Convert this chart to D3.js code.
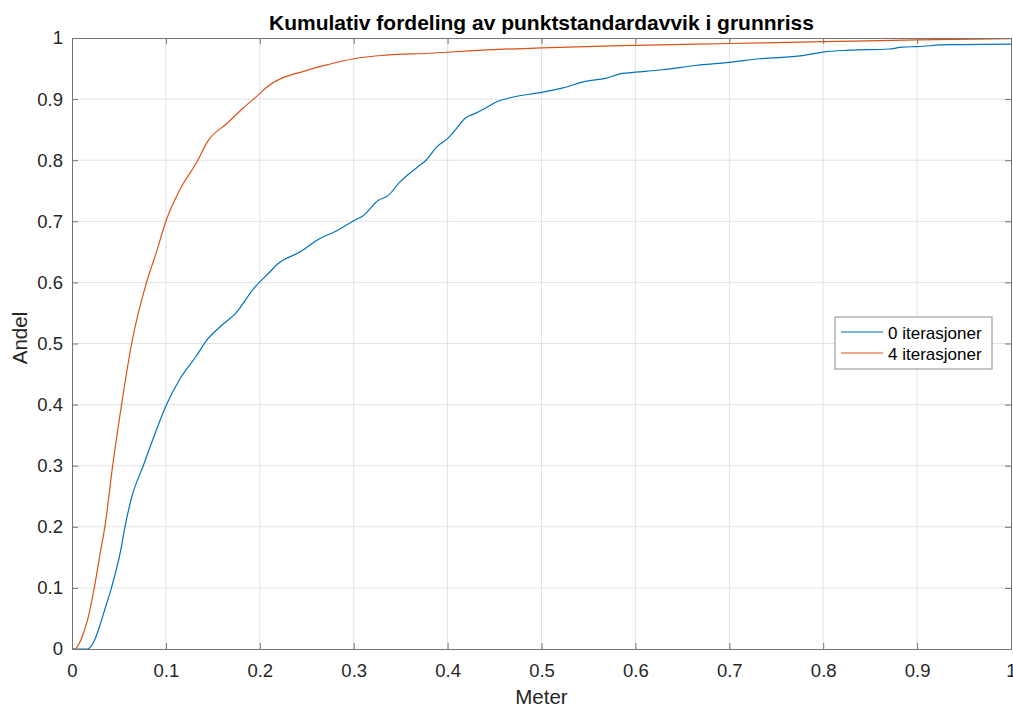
<!DOCTYPE html>
<html>
<head>
<script src="https://cdn.jsdelivr.net/npm/d3@7"></script>
<style>
  body { margin: 0; background: #fff; }
  text { font-family: "Liberation Sans", Arial, sans-serif; }
</style>
</head>
<body>
<svg id="chart" width="1013" height="706"></svg>
<script>
// cumulative distribution
var blueX = [0, 0.016, 0.02, 0.025, 0.03, 0.035, 0.042, 0.0518, 0.0564, 0.0635, 0.0759, 0.0883, 0.1007, 0.1149, 0.1326, 0.1433, 0.1574, 0.1752, 0.193, 0.2106, 0.219, 0.243, 0.264, 0.2816, 0.3, 0.31, 0.326, 0.3365, 0.349, 0.368, 0.377, 0.388, 0.401, 0.409, 0.419, 0.43, 0.441, 0.453, 0.469, 0.5, 0.522, 0.547, 0.568, 0.586, 0.6, 0.629, 0.664, 0.7, 0.732, 0.778, 0.8, 0.828, 0.87, 0.884, 0.9, 0.934, 1.0];
var blueY = [0, 0, 0.004, 0.018, 0.04, 0.065, 0.1, 0.161, 0.2, 0.248, 0.3, 0.352, 0.4, 0.442, 0.48, 0.505, 0.527, 0.551, 0.589, 0.617, 0.63, 0.65, 0.672, 0.684, 0.701, 0.709, 0.734, 0.742, 0.764, 0.789, 0.8, 0.821, 0.837, 0.851, 0.869, 0.877, 0.886, 0.896, 0.903, 0.911, 0.918, 0.929, 0.934, 0.942, 0.944, 0.948, 0.955, 0.96, 0.966, 0.971, 0.977, 0.98, 0.982, 0.985, 0.986, 0.989, 0.99];
var orangeX = [0, 0.003, 0.008, 0.012, 0.017, 0.0237, 0.0305, 0.035, 0.0433, 0.0528, 0.0635, 0.0794, 0.09, 0.1, 0.115, 0.133, 0.145, 0.165, 0.182, 0.2, 0.207, 0.25, 0.274, 0.3, 0.335, 0.381, 0.423, 0.5, 0.6, 0.7, 0.8, 0.9, 1.0];
var orangeY = [0, 0, 0.01, 0.025, 0.05, 0.1, 0.161, 0.2, 0.3, 0.4, 0.5, 0.6, 0.65, 0.7, 0.752, 0.797, 0.832, 0.86, 0.885, 0.909, 0.919, 0.947, 0.957, 0.966, 0.972, 0.975, 0.979, 0.984, 0.988, 0.991, 0.994, 0.997, 0.999];
var seriesNames = ["0 iterasjoner", "4 iterasjoner"];
var seriesColors = ["#0072BD", "#D95319"];
var ticks = [0, 0.1, 0.2, 0.3, 0.4, 0.5, 0.6, 0.7, 0.8, 0.9, 1];
var tickLabels = ["0", "0.1", "0.2", "0.3", "0.4", "0.5", "0.6", "0.7", "0.8", "0.9", "1"];

var svg = d3.select("#chart");
var mLeft = 72, mRight = 1011, mTop = 38, mBottom = 649;
var x = d3.scaleLinear().domain([0, 1]).range([mLeft, mRight]);
var y = d3.scaleLinear().domain([0, 1]).range([mBottom, mTop]);

// grid
svg.append("g").selectAll("line").data(ticks.slice(1, -1)).enter().append("line")
  .attr("x1", d => x(d)).attr("x2", d => x(d)).attr("y1", mTop).attr("y2", mBottom)
  .attr("stroke", "#e3e3e3").attr("stroke-width", 1);
svg.append("g").selectAll("line").data(ticks.slice(1, -1)).enter().append("line")
  .attr("y1", d => y(d)).attr("y2", d => y(d)).attr("x1", mLeft).attr("x2", mRight)
  .attr("stroke", "#e3e3e3").attr("stroke-width", 1);

// curves
var line = d3.line().x(d => x(d[0])).y(d => y(d[1])).curve(d3.curveMonotoneX);
[[blueX, blueY], [orangeX, orangeY]].forEach(function(s, i){
  svg.append("path").datum(d3.zip(s[0], s[1])).attr("d", line)
    .attr("fill", "none").attr("stroke", seriesColors[i]).attr("stroke-width", 1.2);
});

// axes (MATLAB style, ticks inward, box on)
var fmt = d => tickLabels[ticks.indexOf(d)];
var xAxis = svg.append("g").attr("transform", "translate(0," + mBottom + ")")
  .call(d3.axisBottom(x).tickValues(ticks).tickFormat(fmt).tickSizeInner(-6).tickSizeOuter(0).tickPadding(15));
var yAxis = svg.append("g").attr("transform", "translate(" + mLeft + ",0)")
  .call(d3.axisLeft(y).tickValues(ticks).tickFormat(fmt).tickSizeInner(-6).tickSizeOuter(0).tickPadding(9));
var xTop = svg.append("g").attr("transform", "translate(0," + mTop + ")")
  .call(d3.axisTop(x).tickValues(ticks).tickFormat("").tickSizeInner(-6).tickSizeOuter(0));
var yRight = svg.append("g").attr("transform", "translate(" + mRight + ",0)")
  .call(d3.axisRight(y).tickValues(ticks).tickFormat("").tickSizeInner(-6).tickSizeOuter(0));
[xAxis, yAxis, xTop, yRight].forEach(function(g){
  g.selectAll("path, line").attr("stroke", "#737373");
  g.selectAll("text").attr("fill", "#262626").style("font-size", "18.5px");
});

// labels
svg.append("text").attr("x", (mLeft + mRight) / 2).attr("y", 30).attr("text-anchor", "middle")
  .style("font-size", "21px").style("font-weight", "bold").attr("fill", "#000")
  .text("Kumulativ fordeling av punktstandardavvik i grunnriss");
svg.append("text").attr("x", (mLeft + mRight) / 2).attr("y", 704).attr("text-anchor", "middle")
  .style("font-size", "20.5px").attr("fill", "#262626").text("Meter");
svg.append("text").attr("transform", "translate(27,338) rotate(-90)")
  .attr("text-anchor", "middle").style("font-size", "20.5px").attr("fill", "#262626").text("Andel");

// legend
var lg = svg.append("g").attr("transform", "translate(835,317)");
lg.append("rect").attr("width", 157).attr("height", 52).attr("fill", "#fff").attr("stroke", "#8c8c8c");
seriesNames.forEach(function(n, i){
  var ly = 15 + i * 21;
  lg.append("line").attr("x1", 6).attr("x2", 48).attr("y1", ly).attr("y2", ly)
    .attr("stroke", seriesColors[i]).attr("stroke-width", 1.2);
  lg.append("text").attr("x", 53).attr("y", ly + 6.5).style("font-size", "17px").attr("fill", "#000").text(n);
});
</script>
</body>
</html>
